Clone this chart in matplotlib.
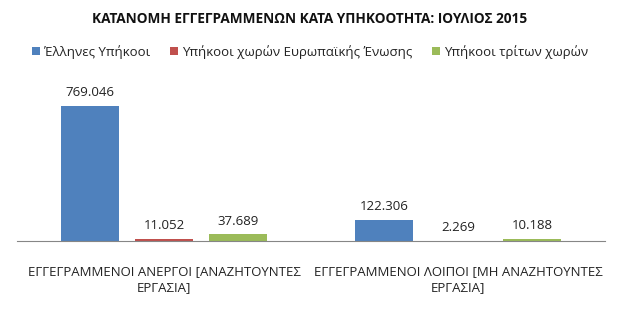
import numpy as np
import matplotlib
matplotlib.use("Agg")
import matplotlib.pyplot as plt

plt.rcParams['font.family'] = ['Open Sans', 'DejaVu Sans']

# data
categories = ["ΕΓΓΕΓΡΑΜΜΕΝΟΙ ΑΝΕΡΓΟΙ [ΑΝΑΖΗΤΟΥΝΤΕΣ\nΕΡΓΑΣΙΑ]",
              "ΕΓΓΕΓΡΑΜΜΕΝΟΙ ΛΟΙΠΟΙ [ΜΗ ΑΝΑΖΗΤΟΥΝΤΕΣ\nΕΡΓΑΣΙΑ]"]
series_names = ["Έλληνες Υπήκοοι", "Υπήκοοι χωρών Ευρωπαϊκής Ένωσης", "Υπήκοοι τρίτων χωρών"]
greeks = [769046, 122306]
eu = [11052, 2269]
third = [37689, 10188]
colors = ["#4F81BD", "#C0504D", "#9BBB59"]

fig = plt.figure(figsize=(6.2, 3.09), dpi=100)
ax = fig.add_axes([17/620, 68/309, 588/620, 161/309])

x = np.arange(len(categories))
w = 0.2
gap = 0.252
for i, (vals, name, c) in enumerate(zip([greeks, eu, third], series_names, colors)):
    pos = x + (i - 1) * gap
    ax.bar(pos, vals, w, color=c, label=name)
    for p, v in zip(pos, vals):
        ax.text(p, v + 769046 * 0.05, f"{v:,}".replace(",", "."), ha="center", va="bottom",
                fontsize=9.5, color="#222222")

ax.set_xlim(-0.5, 1.5)
ax.set_ylim(0, 769046 * 161 / 135)
ax.set_yticks([])
ax.set_xticks(x)
ax.set_xticklabels(categories, fontsize=9.5, color="#222222", linespacing=1.35)
ax.tick_params(axis="x", length=0, pad=17)
for s in ["top", "right", "left"]:
    ax.spines[s].set_visible(False)
ax.spines["bottom"].set_color("#868686")

fig.text(0.5, 1 - 19/309, "ΚΑΤΑΝΟΜΗ ΕΓΓΕΓΡΑΜΜΕΝΩΝ ΚΑΤΑ ΥΠΗΚΟΟΤΗΤΑ: ΙΟΥΛΙΟΣ 2015",
         ha="center", va="center", fontsize=9.8, fontweight="bold", color="#111111")
fig.legend(loc="center", bbox_to_anchor=(0.5, 1 - 52/309), ncol=3, frameon=False,
           fontsize=9.5, handlelength=0.6, handleheight=0.6, handletextpad=0.3,
           columnspacing=1.5, labelcolor="#222222")

fig.savefig("out.png", dpi=100)
